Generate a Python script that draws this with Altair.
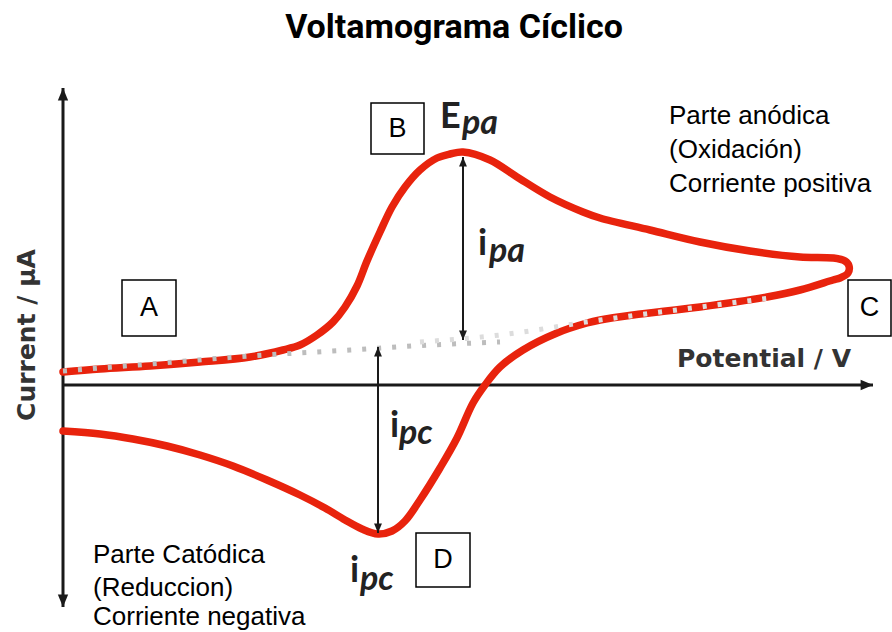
import altair as alt
import pandas as pd

# Cyclic voltammogram: potential (arbitrary units, origin at the axes crossing)
# and current (positive = anodic, negative = cathodic).
scan_E = [0, 37, 87, 137, 187, 220, 237, 254, 270, 282, 294, 304, 317, 329, 342, 357, 374,
          387, 400, 427, 454, 487, 520, 537, 587, 637, 687, 737, 770, 782, 786, 785, 777,
          770, 737, 704, 637, 570, 537, 524, 494, 460, 437, 422, 410, 394, 377, 357, 342,
          329, 315, 299, 282, 262, 237, 204, 170, 137, 104, 70, 37, 0]
scan_I = [13, 16, 19, 23, 28, 35, 40, 50, 63, 78, 99, 124, 153, 178, 198, 215, 227,
          231, 233, 225, 208, 188, 173, 167, 155, 143, 134, 128, 127, 124, 119, 112, 107,
          105, 95, 88, 78, 70, 65, 62, 52, 35, 18, 0, -18, -53, -83, -115, -136,
          -146, -149, -144, -135, -123, -110, -95, -81, -70, -61, -54, -49, -46]

# Extrapolated baselines used to measure the peak currents
base_fwd_E = [0, 87, 187, 287, 367, 437]
base_fwd_I = [14, 21, 29, 35, 40, 43]
base_rev_E = [357, 437, 537, 637, 707]
base_rev_I = [43, 50, 65, 78, 87]

# Peak current arrows (potential, top current, bottom current)
peak_names = ["ipa", "ipc"]
peak_E = [400, 315]
peak_top = [228, 38]
peak_bottom = [45, -148]

# Axes extents
y_axis_top, y_axis_bottom = 297, -222
x_axis_end = 810

# Region boxes A-D
box_labels = ["A", "B", "C", "D"]
box_E1 = [59, 308, 785, 353]
box_E2 = [113, 361, 828, 407]
box_I1 = [49, 231, 49, -202]
box_I2 = [105, 282, 105, -148]

XS = alt.Scale(domain=[-63, 829], nice=False, zero=False)
YS = alt.Scale(domain=[-247, 385], nice=False, zero=False)


def xy(xf="E", yf="I"):
    return dict(x=alt.X(f"{xf}:Q", scale=XS, axis=None),
                y=alt.Y(f"{yf}:Q", scale=YS, axis=None))


RED = "#e8230d"
INK = "#1a1a1a"

scan = pd.DataFrame({"E": scan_E, "I": scan_I, "k": range(len(scan_E))})
curve = alt.Chart(scan).mark_line(
    color=RED, strokeWidth=7.5, strokeCap="round", strokeJoin="round",
    interpolate="catmull-rom"
).encode(order="k:Q", **xy())

bf = pd.DataFrame({"E": base_fwd_E, "I": base_fwd_I})
br = pd.DataFrame({"E": base_rev_E, "I": base_rev_I})
dots_fwd = alt.Chart(bf).mark_line(
    color="#bdbdbd", strokeWidth=5, strokeDash=[4, 11], interpolate="monotone"
).encode(**xy())
dots_rev = alt.Chart(br).mark_line(
    color="#dcdcdc", strokeWidth=5, strokeDash=[4, 11], interpolate="monotone"
).encode(**xy())

# Axes drawn as arrows
axes_df = pd.DataFrame({
    "E": [0, 0], "I": [y_axis_top, 0],
    "E2": [0, x_axis_end], "I2": [y_axis_bottom, 0],
})
axes = alt.Chart(axes_df).mark_rule(color=INK, strokeWidth=3).encode(
    x=alt.X("E:Q", scale=XS, axis=None), y=alt.Y("I:Q", scale=YS, axis=None),
    x2="E2:Q", y2="I2:Q")

peaks = pd.DataFrame({"name": peak_names, "E": peak_E, "top": peak_top, "bottom": peak_bottom})
peak_rules = alt.Chart(peaks).mark_rule(color=INK, strokeWidth=2).encode(
    x=alt.X("E:Q", scale=XS, axis=None), y=alt.Y("top:Q", scale=YS, axis=None),
    y2="bottom:Q")

# Arrowhead outlines with the tip at the anchor point
UP = "M0,0L-0.75,1.8L0.75,1.8Z"
DOWN = "M0,0L-0.75,-1.8L0.75,-1.8Z"
RIGHT = "M0,0L-1.8,-0.75L-1.8,0.75Z"


def heads(E, I, shape, size):
    df = pd.DataFrame({"E": E, "I": I})
    return alt.Chart(df).mark_point(
        shape=shape, filled=True, color=INK, opacity=1, size=size
    ).encode(**xy())


arrowheads = (
    heads(peak_E, peak_top, UP, 110) + heads(peak_E, peak_bottom, DOWN, 110) +
    heads([0], [y_axis_top], UP, 190) + heads([0], [y_axis_bottom], DOWN, 190) +
    heads([x_axis_end], [0], RIGHT, 190)
)

boxes_df = pd.DataFrame({"label": box_labels, "E1": box_E1, "E2": box_E2,
                         "I1": box_I1, "I2": box_I2})
boxes_df["Ec"] = (boxes_df.E1 + boxes_df.E2) / 2
boxes_df["Ic"] = (boxes_df.I1 + boxes_df.I2) / 2
boxes = alt.Chart(boxes_df).mark_rect(fill="white", stroke="black", strokeWidth=1.5).encode(
    x=alt.X("E1:Q", scale=XS, axis=None), x2="E2:Q",
    y=alt.Y("I1:Q", scale=YS, axis=None), y2="I2:Q")
box_text = alt.Chart(boxes_df).mark_text(
    font="Liberation Sans", fontSize=27, color="black", baseline="middle", align="center"
).encode(text="label:N", **xy("Ec", "Ic"))

# Peak symbols: main letter + italic subscript
sym_main = pd.DataFrame({"t": ["E", "i", "i", "i"],
                         "E": [377, 415, 327, 287], "I": [257, 130, -52, -197]})
sym_sub = pd.DataFrame({"t": ["pa", "pa", "pc", "pc"],
                        "E": [399, 426, 336, 297], "I": [251, 123, -59, -205]})
main_t = alt.Chart(sym_main).mark_text(
    font="Lato", fontWeight="bold", fontSize=36, color="#222222", align="left",
    baseline="alphabetic").encode(text="t:N", **xy())
sub_t = alt.Chart(sym_sub).mark_text(
    font="Lato", fontWeight="bold", fontStyle="italic", fontSize=34, color="#222222",
    align="left", baseline="alphabetic").encode(text="t:N", **xy())

notes = pd.DataFrame({
    "t": ["Parte anódica", "(Oxidación)", "Corriente positiva",
          "Parte Catódica", "(Reduccion)", "Corriente negativa"],
    "E": [606, 606, 606, 30, 30, 30],
    "I": [261, 227, 193, -178, -211, -240],
})
notes_t = alt.Chart(notes).mark_text(
    font="Liberation Sans", fontSize=26, color="black", align="left",
    baseline="alphabetic").encode(text="t:N", **xy())

xlab = alt.Chart(pd.DataFrame({"t": ["Potential / V"], "E": [614], "I": [18]})).mark_text(
    font="DejaVu Sans", fontWeight="bold", fontSize=25, color="#333333", align="left",
    baseline="alphabetic").encode(text="t:N", **xy())
ylab = alt.Chart(pd.DataFrame({"t": ["Current / µA"], "E": [-36], "I": [50]})).mark_text(
    font="DejaVu Sans", fontWeight="bold", fontSize=25, color="#333333", align="center",
    baseline="middle", angle=270).encode(text="t:N", **xy())

title = alt.Chart(pd.DataFrame({"t": ["Voltamograma Cíclico"]})).mark_text(
    font="Roboto", fontWeight="bold", fontSize=34, color="black",
    align="center", baseline="alphabetic").encode(
    text="t:N", x=alt.value(454), y=alt.value(38))

chart = alt.layer(
    axes, curve, dots_fwd, dots_rev, peak_rules, arrowheads,
    boxes, box_text, main_t, sub_t, notes_t, xlab, ylab, title
).properties(
    width=892, height=632, padding=0, autosize=alt.AutoSizeParams(type="none"),
    background="white"
).configure_view(stroke=None)

chart.save("out.html", embed_options={"renderer": "svg", "actions": False})
